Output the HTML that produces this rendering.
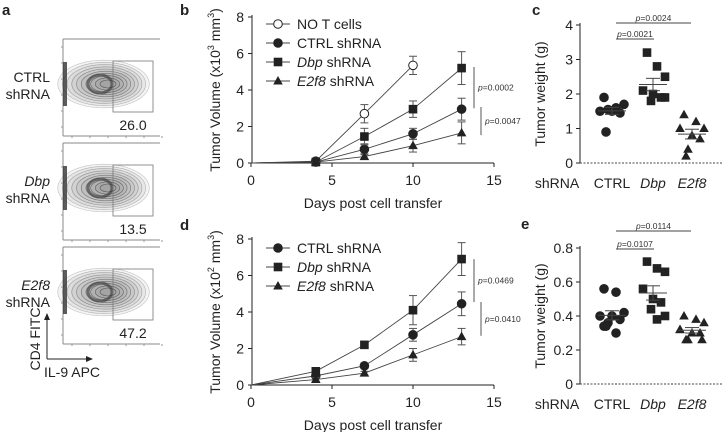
<!DOCTYPE html>
<html><head><meta charset="utf-8"><style>
html,body{margin:0;padding:0;background:#fff;}
svg{display:block;font-family:"Liberation Sans",Arial,sans-serif;}
</style></head><body>
<svg id="fig" width="722" height="432" viewBox="0 0 722 432" xmlns="http://www.w3.org/2000/svg">
<g font-weight="bold" font-size="15" fill="#222">
<text x="2" y="15">a</text><text x="180" y="15">b</text><text x="532" y="15">c</text><text x="180" y="230">d</text><text x="521" y="229">e</text>
</g>
<g id="pa"></g>
<g id="pb"></g>
<g id="pc"></g>
<g id="pd"></g>
<g id="pe"></g>
</svg>
<script>
// ---- data ----
const days = [0, 4, 7, 10, 13];
const bNoT = [0, 0.1, 2.7, 5.35];
const bNoTErr = [0, 0.05, 0.5, 0.5];
const bCtrl = [0, 0.05, 0.75, 1.6, 2.95];
const bCtrlErr = [0, 0.03, 0.3, 0.3, 0.6];
const bDbp = [0, 0.05, 1.45, 2.95, 5.2];
const bDbpErr = [0, 0.03, 0.45, 0.45, 0.9];
const bE2f8 = [0, 0.05, 0.35, 0.95, 1.65];
const bE2f8Err = [0, 0.03, 0.15, 0.35, 0.6];
const dCtrl = [0, 0.5, 1.05, 2.75, 4.45];
const dCtrlErr = [0, 0.1, 0.15, 0.35, 0.65];
const dDbp = [0, 0.75, 2.2, 4.1, 6.9];
const dDbpErr = [0, 0.15, 0.15, 0.8, 0.9];
const dE2f8 = [0, 0.3, 0.65, 1.65, 2.65];
const dE2f8Err = [0, 0.1, 0.1, 0.35, 0.45];
const lineTicksY = [0, 2, 4, 6, 8];
const lineTicksX = [0, 5, 10, 15];
const groups = ["CTRL", "Dbp", "E2f8"];
const cCtrl = [1.9, 1.6, 1.7, 1.5, 1.5, 1.45, 1.55, 0.9];
const cDbp = [3.2, 2.8, 2.5, 2.1, 2.0, 1.9, 1.8, 1.9];
const cE2f8 = [1.4, 1.2, 1.0, 1.0, 0.8, 0.7, 0.4, 0.2];
const cTicks = [0, 1, 2, 3, 4];
const eCtrl = [0.56, 0.54, 0.42, 0.40, 0.40, 0.38, 0.36, 0.34, 0.34, 0.30];
const eDbp = [0.72, 0.68, 0.66, 0.56, 0.50, 0.48, 0.44, 0.40, 0.38];
const eE2f8 = [0.40, 0.38, 0.36, 0.32, 0.30, 0.30, 0.26, 0.26, 0.26, 0.32];
const eTicks = [0, 0.2, 0.4, 0.6, 0.8];
const flowPcts = ["26.0", "13.5", "47.2"];
const flowRows = ["CTRL", "Dbp", "E2f8"];

const NS = "http://www.w3.org/2000/svg";
function mk(parent, tag, attrs, text) {
  const e = document.createElementNS(NS, tag);
  for (const k in attrs) e.setAttribute(k, attrs[k]);
  if (text !== undefined) e.textContent = text;
  parent.appendChild(e);
  return e;
}
const C = "#222";

function marker(g, type, x, y, open) {
  let m;
  if (type === "circle") m = mk(g, "circle", {cx: x, cy: y, r: 4.3, fill: open ? "#fff" : C, stroke: C, "stroke-width": 1});
  else if (type === "square") m = mk(g, "rect", {x: x - 4.3, y: y - 4.3, width: 8.6, height: 8.6, fill: C});
  else m = mk(g, "polygon", {points: `${x},${y - 5} ${x - 4.8},${y + 3.5} ${x + 4.8},${y + 3.5}`, fill: C});
  return m;
}

function lineChart(g, y0, y8, ymax, series, unitExp, brackets, legendY) {
  const X = d => 251 + d * (494 - 251) / 15;
  const Y = v => y0 - v * (y0 - y8) / ymax;
  mk(g, "line", {x1: 252, y1: y8 - 2, x2: 252, y2: y0, stroke: C});
  mk(g, "line", {x1: 252, y1: y0, x2: 494, y2: y0, stroke: C});
  lineTicksY.forEach(t => {
    mk(g, "line", {x1: 248, y1: Y(t), x2: 252, y2: Y(t), stroke: C});
    const tl = mk(g, "text", {x: 244, y: Y(t) + 5, "text-anchor": "end", "font-size": 14, fill: C}, t);
    
    
  });
  lineTicksX.forEach(t => {
    mk(g, "line", {x1: X(t), y1: y0, x2: X(t), y2: y0 + 4, stroke: C});
    const tl = mk(g, "text", {x: X(t), y: y0 + 22, "text-anchor": "middle", "font-size": 14, fill: C}, t);
    
    
  });
  const xt = mk(g, "text", {x: 373, y: y0 + 45, "text-anchor": "middle", "font-size": 14, fill: C}, "Days post cell transfer");
  
  
  const yt = mk(g, "text", {transform: `translate(220,${(y0 + y8) / 2}) rotate(-90)`, "text-anchor": "middle", "font-size": 14, fill: C});
  
  
  yt.innerHTML = `Tumor Volume (x10<tspan font-size="9" dy="-6">${unitExp}</tspan><tspan dy="6"> mm</tspan><tspan font-size="9" dy="-6">3</tspan><tspan dy="6">)</tspan>`;
  series.forEach((s, si) => {
    const sg = mk(g, "g", {});
    
    
    const pts = s.vals.map((v, i) => `${X(days[i])},${Y(v)}`).join(" ");
    mk(sg, "polyline", {points: pts, fill: "none", stroke: "#444", "stroke-width": 0.9});
    s.vals.forEach((v, i) => {
      const e = s.err[i];
      if (e > 0.05) {
        const x = X(days[i]);
        mk(sg, "line", {x1: x, y1: Y(v + e), x2: x, y2: Y(v - e), stroke: "#555"});
        mk(sg, "line", {x1: x - 4, y1: Y(v + e), x2: x + 4, y2: Y(v + e), stroke: "#555"});
        mk(sg, "line", {x1: x - 4, y1: Y(v - e), x2: x + 4, y2: Y(v - e), stroke: "#555"});
      }
      if (i > 0) {
        const m = marker(sg, s.type, X(days[i]), Y(v), s.open);
        
        
      }
    });
    const ly = legendY + si * 19;
    const lg = mk(g, "g", {});
    
    
    mk(lg, "line", {x1: 266, y1: ly, x2: 290, y2: ly, stroke: "#444"});
    marker(lg, s.type, 278, ly, s.open);
    mk(lg, "text", {x: 297, y: ly + 5, "font-size": 14, fill: C}).innerHTML = s.label;
  });
  brackets.forEach(b => {
    mk(g, "line", {x1: b.x, y1: Y(b.a), x2: b.x, y2: Y(b.b), stroke: "#555"});
    const t = mk(g, "text", {x: b.x + 4, y: (Y(b.a) + Y(b.b)) / 2 + 3, "font-size": 8.5, fill: "#333"});
    t.innerHTML = `<tspan font-style="italic">p</tspan>=${b.p}`;
    
    
  });
}

lineChart(document.getElementById("pb"), 163, 17, 8, [
  {key: "no-t-cells", vals: bNoT, err: bNoTErr, type: "circle", open: true, label: "NO T cells"},
  {key: "ctrl", vals: bCtrl, err: bCtrlErr, type: "circle", label: "CTRL shRNA"},
  {key: "dbp", vals: bDbp, err: bDbpErr, type: "square", label: '<tspan font-style="italic">Dbp</tspan> shRNA'},
  {key: "e2f8", vals: bE2f8, err: bE2f8Err, type: "tri", label: '<tspan font-style="italic">E2f8</tspan> shRNA'}
], 3, [{x: 474, a: 5.26, b: 3.0, p: "0.0002"}, {x: 481, a: 3.07, b: 1.53, p: "0.0047"}], 24);

lineChart(document.getElementById("pd"), 385, 239, 8, [
  {key: "ctrl", vals: dCtrl, err: dCtrlErr, type: "circle", label: "CTRL shRNA"},
  {key: "dbp", vals: dDbp, err: dDbpErr, type: "square", label: '<tspan font-style="italic">Dbp</tspan> shRNA'},
  {key: "e2f8", vals: dE2f8, err: dE2f8Err, type: "tri", label: '<tspan font-style="italic">E2f8</tspan> shRNA'}
], 2, [{x: 474, a: 6.9, b: 4.55, p: "0.0469"}, {x: 481, a: 4.55, b: 2.7, p: "0.0410"}], 248);

function scatter(g, y0, yTop, ymax, ticks, fmt, data, pvals, bY) {
  const Y = v => y0 - v * (y0 - yTop) / ymax;
  const GX = [612, 653, 692];
  const jit = [[-8, 4, 12, -12, 0, 8, -4, -6], [-6, 4, 12, -10, 0, 8, -2, 12, 4], [-8, 4, 12, -12, 0, 8, -4, -6, 10, -12]];
  mk(g, "line", {x1: 580, y1: yTop - 2, x2: 580, y2: y0, stroke: C});
  mk(g, "line", {x1: 580, y1: y0, x2: 722, y2: y0, stroke: "#444", "stroke-dasharray": "2,1.5"});
  ticks.forEach(t => {
    mk(g, "line", {x1: 576, y1: Y(t), x2: 580, y2: Y(t), stroke: C});
    const tl = mk(g, "text", {x: 573, y: Y(t) + 5, "text-anchor": "end", "font-size": 14, fill: C}, fmt(t));
    
    
  });
  const yt = mk(g, "text", {transform: `translate(545,${(y0 + yTop) / 2}) rotate(-90)`, "text-anchor": "middle", "font-size": 14, fill: C}, "Tumor weight (g)");
  
  
  const sh = mk(g, "text", {x: 557, y: y0 + 25, "text-anchor": "middle", "font-size": 14, fill: C}, "shRNA");
  
  
  groups.forEach((gn, gi) => {
    const cl = mk(g, "text", {x: GX[gi], y: y0 + 25, "text-anchor": "middle", "font-size": 14, fill: C, "font-style": gi ? "italic" : "normal"}, gn);
    
    
    const vals = data[gi];
    const type = ["circle", "square", "tri"][gi];
    vals.forEach((v, i) => {
      const m = marker(g, type, GX[gi] + jit[gi][i % jit[gi].length], Y(v));
      
      
    });
    const mean = vals.reduce((a, b) => a + b, 0) / vals.length;
    const sd = Math.sqrt(vals.reduce((a, b) => a + (b - mean) ** 2, 0) / (vals.length - 1));
    const se = sd / Math.sqrt(vals.length);
    mk(g, "line", {x1: GX[gi] - 14, y1: Y(mean), x2: GX[gi] + 14, y2: Y(mean), stroke: "#444"});
    mk(g, "line", {x1: GX[gi] - 7, y1: Y(mean + se), x2: GX[gi] + 7, y2: Y(mean + se), stroke: "#444"});
    mk(g, "line", {x1: GX[gi] - 7, y1: Y(mean - se), x2: GX[gi] + 7, y2: Y(mean - se), stroke: "#444"});
    mk(g, "line", {x1: GX[gi], y1: Y(mean + se), x2: GX[gi], y2: Y(mean - se), stroke: "#444"});
  });
  [[616, 654, pvals[0], bY[0]], [616, 691, pvals[1], bY[1]]].forEach(b => {
    mk(g, "line", {x1: b[0], y1: b[3], x2: b[1], y2: b[3], stroke: "#444"});
    const t = mk(g, "text", {x: (b[0] + b[1]) / 2, y: b[3] - 2, "text-anchor": "middle", "font-size": 8.5, fill: "#333"});
    t.innerHTML = `<tspan font-style="italic">p</tspan>=${b[2]}`;
    
    
  });
}
scatter(document.getElementById("pc"), 163, 25, 4, cTicks, t => t, [cCtrl, cDbp, cE2f8], ["0.0021", "0.0024"], [39, 23]);
scatter(document.getElementById("pe"), 384, 248, 0.8, eTicks, t => t === 0 ? "0" : t.toFixed(1), [eCtrl, eDbp, eE2f8], ["0.0107", "0.0114"], [249, 231]);

// panel a flow plots
const pa = document.getElementById("pa");
const tops = [39, 143, 247];
tops.forEach((top, i) => {
  const g = mk(pa, "g", {});
  
  
  const bot = top + 97;
  mk(g, "line", {x1: 63, y1: top, x2: 160, y2: top, stroke: "#888"});
  mk(g, "line", {x1: 63, y1: top, x2: 63, y2: bot, stroke: "#888"});
  mk(g, "line", {x1: 63, y1: bot, x2: 160, y2: bot, stroke: "#888"});
  for (let k = 0; k < 6; k++) {
    mk(g, "line", {x1: 61, y1: top + 8 + k * 16, x2: 63, y2: top + 8 + k * 16, stroke: "#999"});
    mk(g, "line", {x1: 72 + k * 18, y1: bot, x2: 72 + k * 18, y2: bot + 2, stroke: "#999"});
  }
  const cy = top + 45;
  for (let r = 9; r >= 0; r--) {
    mk(g, "ellipse", {cx: 108 - r * 0.5, cy: cy, rx: 8 + r * 4.2, ry: 4 + r * 2.2, fill: "#555", "fill-opacity": 0.07, stroke: "#444", "stroke-width": 0.6, "stroke-opacity": 0.3 + (9 - r) * 0.06});
  }
  mk(g, "ellipse", {cx: 100, cy: cy, rx: 12, ry: 9, fill: "none", stroke: "#333", "stroke-width": 3, opacity: 0.6});
  mk(g, "rect", {x: 63, y: cy - 22, width: 4, height: 44, fill: "#333", opacity: 0.8});
  mk(g, "rect", {x: 113, y: top + 22, width: 40, height: 51, fill: "none", stroke: "#777", "stroke-width": 0.8});
  const pt = mk(g, "text", {x: 133, y: top + 91, "text-anchor": "middle", "font-size": 14, fill: C}, flowPcts[i]);
  
  
  const l1 = mk(g, "text", {x: 50, y: cy - 2, "text-anchor": "end", "font-size": 14, fill: C, "font-style": i ? "italic" : "normal"}, flowRows[i]);
  
  
  mk(g, "text", {x: 50, y: cy + 15, "text-anchor": "end", "font-size": 14, fill: C}, "shRNA");
});
const ax = mk(pa, "g", {});


mk(ax, "line", {x1: 47, y1: 359, x2: 47, y2: 318, stroke: C});
mk(ax, "polygon", {points: "47,313 44,320 50,320", fill: C});
mk(ax, "line", {x1: 47, y1: 359, x2: 88, y2: 359, stroke: C});
mk(ax, "polygon", {points: "93,359 86,356 86,362", fill: C});
mk(ax, "text", {transform: "translate(40,339) rotate(-90)", "text-anchor": "middle", "font-size": 14, fill: C}, "CD4 FITC");
mk(ax, "text", {x: 44, y: 377, "font-size": 14, fill: C}, "IL-9 APC");
</script>
</body></html>
